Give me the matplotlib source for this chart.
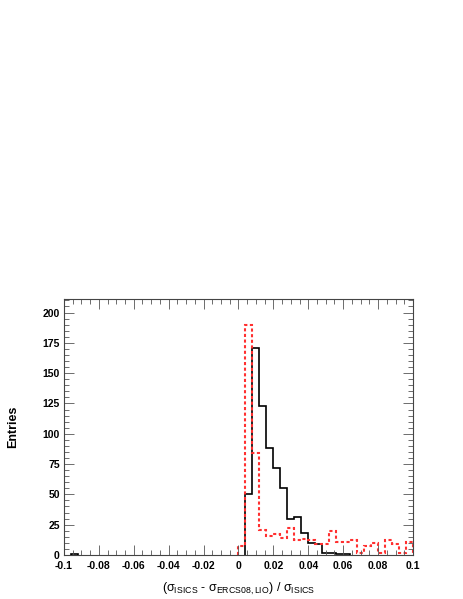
import numpy as np
import matplotlib
matplotlib.use("Agg")
import matplotlib.pyplot as plt
from matplotlib.ticker import MultipleLocator

plt.rcParams['font.family'] = ['Liberation Sans', 'DejaVu Sans']
plt.rcParams['mathtext.fontset'] = 'custom'
plt.rcParams['mathtext.rm'] = 'Liberation Sans'
plt.rcParams['mathtext.it'] = 'Liberation Sans:italic'

# histogram binning
x_lo, x_hi, n_bins = -0.1, 0.1, 50

# entries per bin, black = solid, red = dashed
black_counts = [0, 1, 0, 0, 0, 0, 0, 0, 0, 0,
                0, 0, 0, 0, 0, 0, 0, 0, 0, 0,
                0, 0, 0, 0, 0, 0, 50, 171, 123, 88,
                72, 55, 30, 31, 18, 10, 9, 2, 2, 1,
                1, 0, 0, 0, 0, 0, 0, 0, 0, 0]
red_counts = [0, 0, 0, 0, 0, 0, 0, 0, 0, 0,
              0, 0, 0, 0, 0, 0, 0, 0, 0, 0,
              0, 0, 0, 0, 0, 7, 190, 84, 21, 16,
              17, 14, 22, 12, 13, 12, 9, 9, 20, 11,
              11, 12, 2, 7, 10, 2, 12, 9, 2, 11]

edges = np.linspace(x_lo, x_hi, n_bins + 1)


def masked(counts):
    # empty bins are not drawn along the axis line
    c = np.array(counts, dtype=float)
    c[c == 0] = np.nan
    return c


fig = plt.figure(figsize=(4.63, 5.99), dpi=100)
ax = fig.add_axes([0.138, 0.0735, 0.754, 0.427])

ax.stairs(masked(black_counts), edges, color='black', lw=1.2, baseline=0)
ax.stairs(masked(red_counts), edges, color='#ff3030', lw=1.5,
          linestyle=(0, (1.5, 1.2)), baseline=0)

ax.set_xlim(x_lo, x_hi)
ax.set_ylim(0, 211)

ax.xaxis.set_major_locator(MultipleLocator(0.02))
ax.xaxis.set_minor_locator(MultipleLocator(0.005))
ax.yaxis.set_major_locator(MultipleLocator(25))
ax.yaxis.set_minor_locator(MultipleLocator(5))
ax.tick_params(which='both', direction='in', top=True, right=True, width=0.6, color='#555555')
ax.tick_params(which='major', length=7.5)
ax.tick_params(which='minor', length=3.8)
ax.tick_params(axis='y', labelsize=7.5, pad=3)
ax.tick_params(axis='x', labelsize=7.5, pad=4)
ax.set_xticks([-0.1, -0.08, -0.06, -0.04, -0.02, 0, 0.02, 0.04, 0.06, 0.08, 0.1])
ax.set_xticklabels(['-0.1', '-0.08', '-0.06', '-0.04', '-0.02', '0',
                    '0.02', '0.04', '0.06', '0.08', '0.1'])
for lab in ax.get_xticklabels() + ax.get_yticklabels():
    lab.set_fontweight('bold')
for s in ax.spines.values():
    s.set_linewidth(0.8)
    s.set_color('#444444')

fig.text(0.028, 0.287, 'Entries', rotation=90, ha='center', va='center',
         fontsize=9, fontweight='bold')
fig.text(0.515, 0.016,
         r'(σ$_{\mathrm{ISICS}}$ - σ$_{\mathrm{ERCS08,LIO}}$) / σ$_{\mathrm{ISICS}}$',
         ha='center', va='center', fontsize=9)

fig.savefig('out.png', dpi=100)
